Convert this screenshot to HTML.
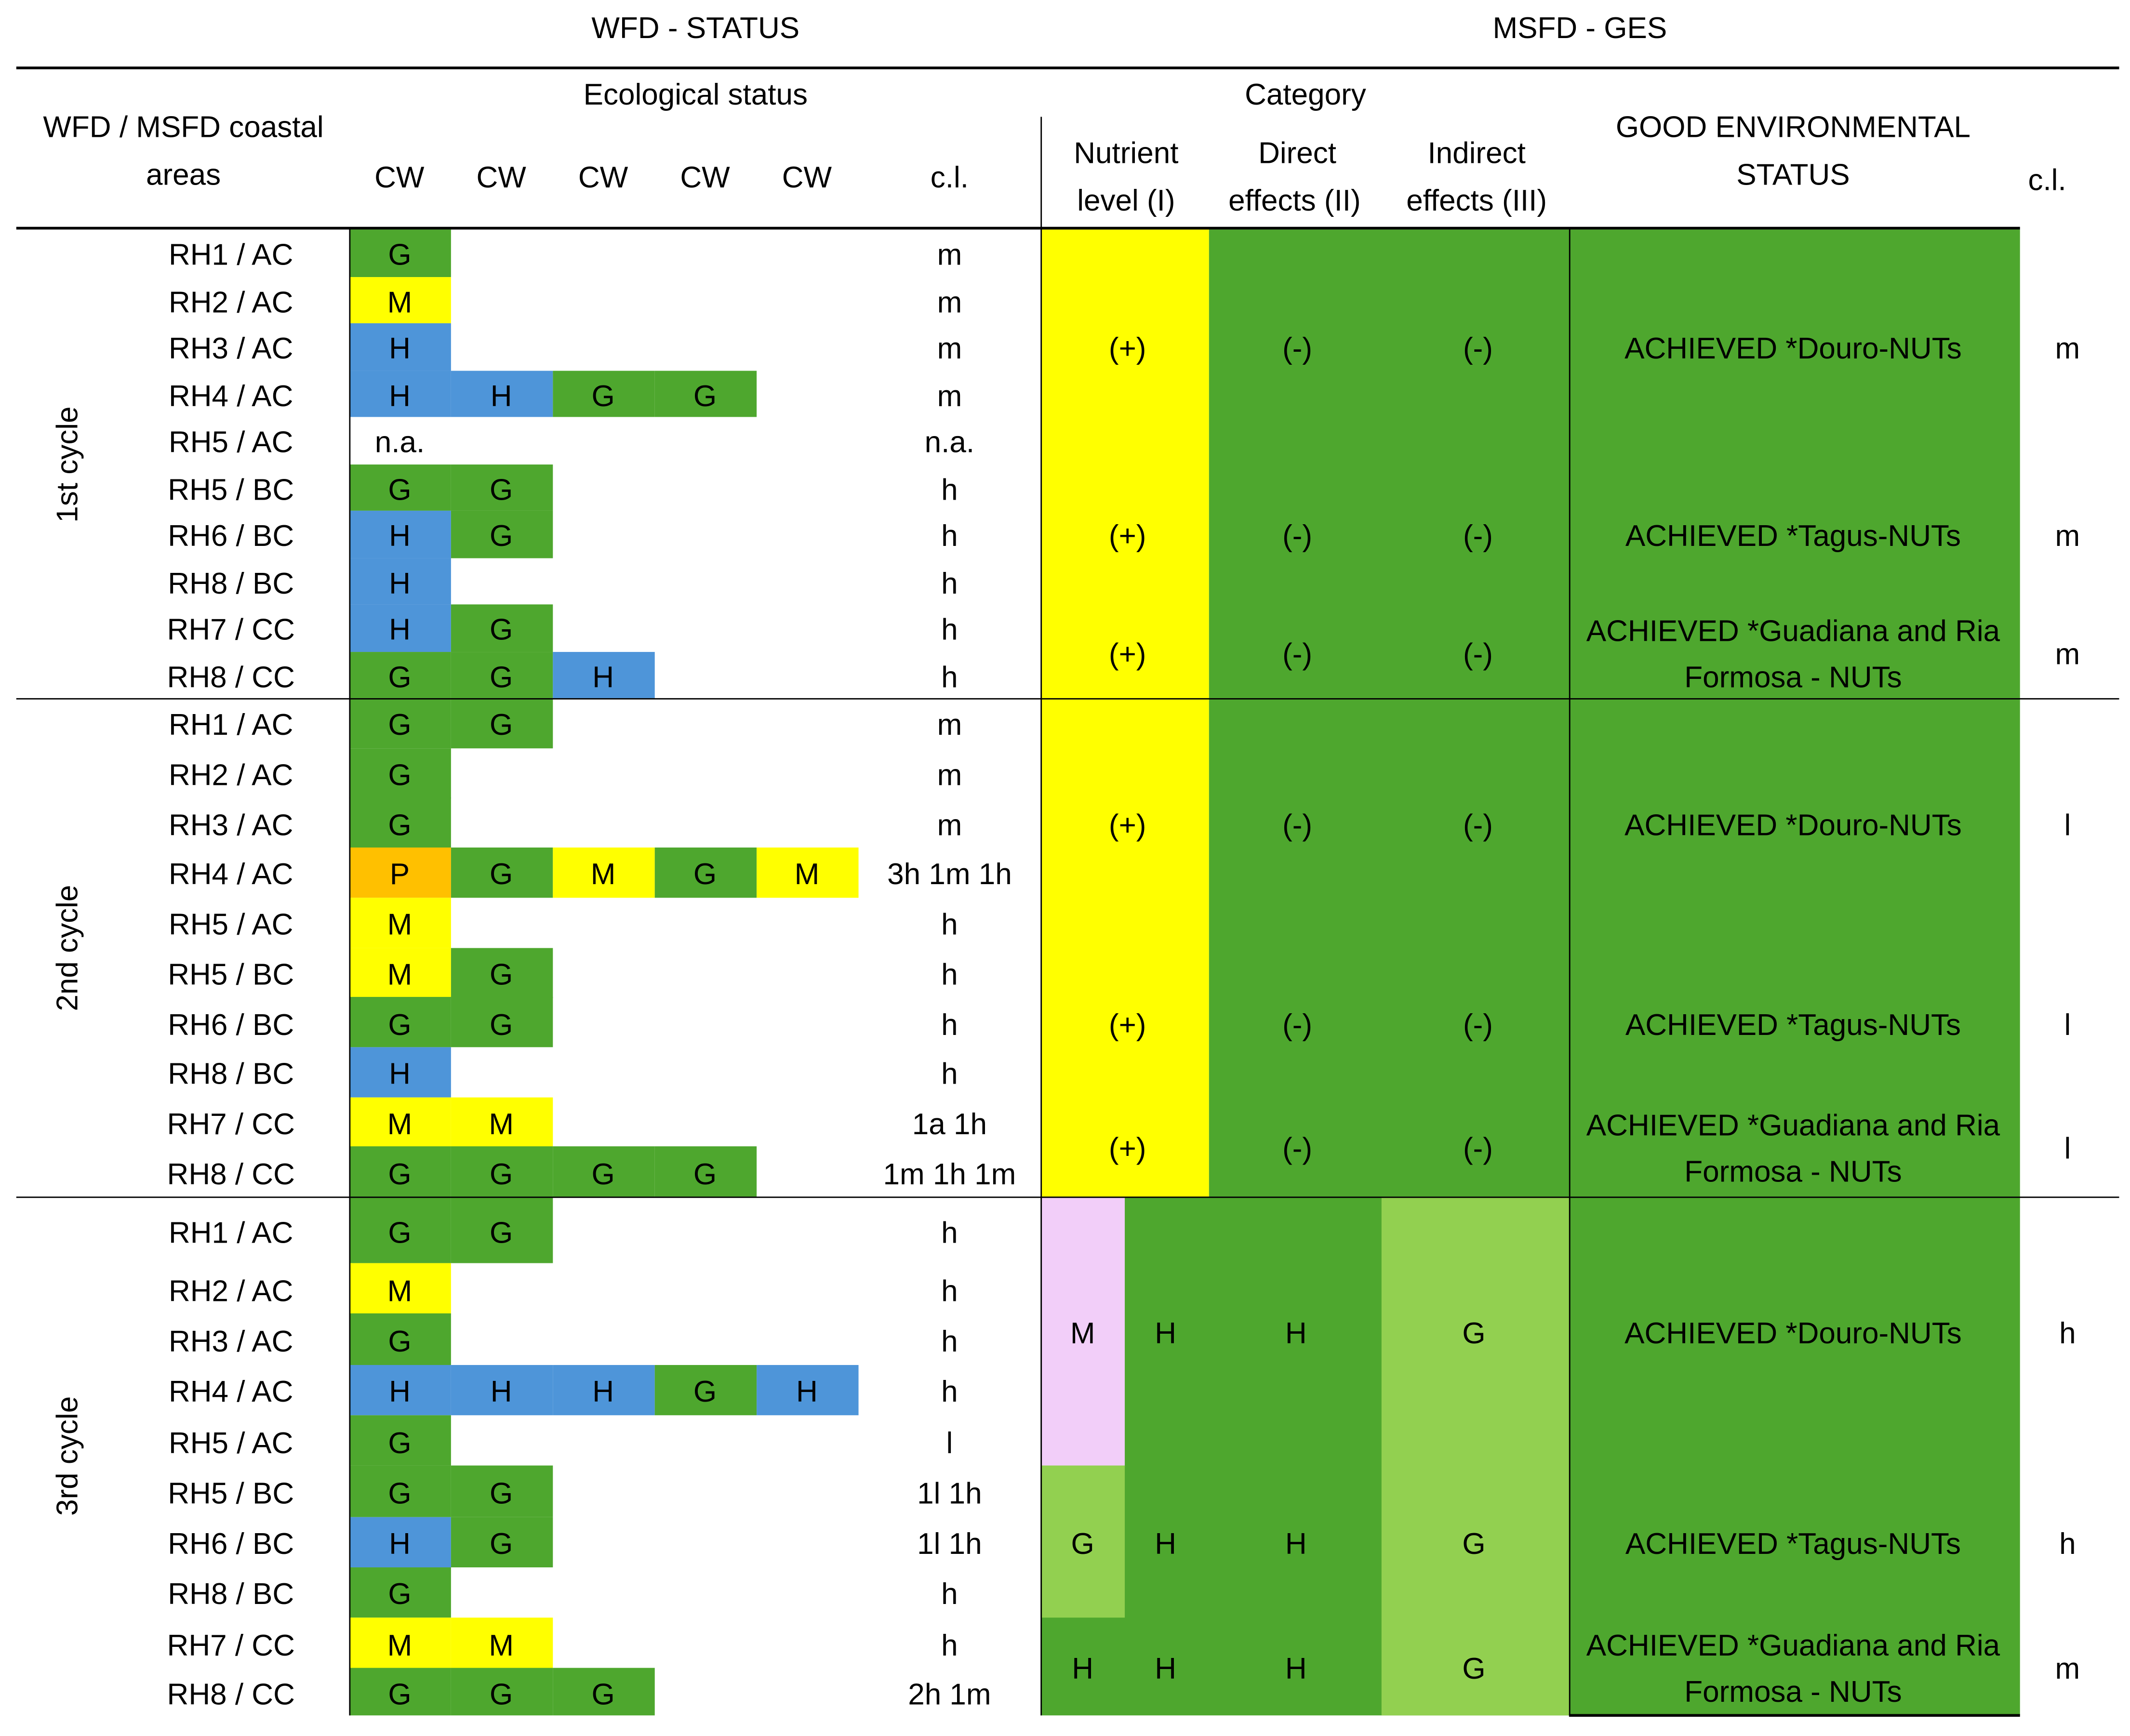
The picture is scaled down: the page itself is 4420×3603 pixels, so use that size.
<!DOCTYPE html>
<html><head><meta charset="utf-8">
<style>
html,body{margin:0;padding:0;background:#fff;}
body{width:4420px;height:3601px;overflow:hidden;position:relative;}
#wrap{position:absolute;left:0;top:0;width:1568px;height:1278px;transform:scale(2.8189);transform-origin:0 0;font-family:"Liberation Sans",sans-serif;font-size:22px;color:#000;}
.t{position:absolute;white-space:nowrap;transform:translate(-50%,-50%);line-height:1;}
.r{position:absolute;}
.ln{position:absolute;background:#000;}
</style></head>
<body>
<div id="wrap"></div>
<script>
const rowLabels=["RH1 / AC","RH2 / AC","RH3 / AC","RH4 / AC","RH5 / AC","RH5 / BC","RH6 / BC","RH8 / BC","RH7 / CC","RH8 / CC"];
const cycleNames=["1st cycle","2nd cycle","3rd cycle"];
const cwStatus=[
 [["G"],["M"],["H"],["H","H","G","G"],["n.a."],["G","G"],["H","G"],["H"],["H","G"],["G","G","H"]],
 [["G","G"],["G"],["G"],["P","G","M","G","M"],["M"],["M","G"],["G","G"],["H"],["M","M"],["G","G","G","G"]],
 [["G","G"],["M"],["G"],["H","H","H","G","H"],["G"],["G","G"],["H","G"],["G"],["M","M"],["G","G","G"]]
];
const cwCl=[
 ["m","m","m","m","n.a.","h","h","h","h","h"],
 ["m","m","m","3h 1m 1h","h","h","h","h","1a 1h","1m 1h 1m"],
 ["h","h","h","h","l","1l 1h","1l 1h","h","h","2h 1m"]
];
const gesText=["ACHIEVED *Douro-NUTs","ACHIEVED *Tagus-NUTs","ACHIEVED *Guadiana and Ria|Formosa - NUTs"];
const gesCl=[["m","m","m"],["l","l","l"],["h","h","m"]];
const colors={G:"#4EA72E",M:"#FFFF00",H:"#4E95D9",P:"#FFC000"};
const W=document.getElementById('wrap');
const DY=2;
function rect(x,y,w,h,c,name){const d=document.createElement('div');d.className='r';d.style.cssText=`left:${x}px;top:${y}px;width:${w+0.3}px;height:${h+0.3}px;background:${c}`;


W.appendChild(d);return d;}
function text(s,x,y,name,extra){const d=document.createElement('div');d.className='t';d.textContent=s;d.style.left=x+'px';d.style.top=(y+DY)+'px';if(extra)d.style.cssText+=extra;


W.appendChild(d);return d;}
function line(x,y,w,h,name){const d=document.createElement('div');d.className='ln';d.style.cssText=`left:${x}px;top:${y}px;width:${w}px;height:${h}px`;


W.appendChild(d);}
// header
text("WFD - STATUS",512,19,'wfd-status-title');
text("MSFD - GES",1163,19,'msfd-ges-title');
text("Ecological status",512,68,'ecological-status-header');
text("Category",961,68,'category-header');
text("WFD / MSFD coastal",135,92,'areas-header');
text("areas",135,127,'areas-header-2');
[294,369,444,519,594].forEach((x,i)=>text("CW",x,129,'cw-header-'+(i+1)));
text("c.l.",699,129,'cl-header');
text("Nutrient",829,111,'nutrient-header');text("level (I)",829,146,'nutrient-header-2');
text("Direct",955,111,'direct-header');text("effects (II)",953,146,'direct-header-2');
text("Indirect",1087,111,'indirect-header');text("effects (III)",1087,146,'indirect-header-2');
text("GOOD ENVIRONMENTAL",1320,92,'ges-header');text("STATUS",1320,127,'ges-header-2');
text("c.l.",1507,131,'ges-cl-header');
const cyc=[{y0:169,y1:514},{y0:514,y1:881},{y0:881,y1:1263}];
function rowBounds(c){
 if(c===2){const b=[881,930];for(let i=1;i<10;i++)b.push(930+37.3*i);b[10]=1263;return b;}
 const b=[];const h=(cyc[c].y1-cyc[c].y0)/10;for(let i=0;i<=10;i++)b.push(cyc[c].y0+h*i);return b;
}
const cwX=[257,331.5,406.5,481.5,556.5,631.5];
for(let c=0;c<3;c++){
 const b=rowBounds(c);
 const grp=[[b[0],b[5]],[b[5],b[8]],[b[8],b[10]]];
 if(c<2){
  rect(766,cyc[c].y0,124,cyc[c].y1-cyc[c].y0,"#FFFF00",'nutrient-block-c'+(c+1));
  rect(890,cyc[c].y0,597,cyc[c].y1-cyc[c].y0,"#4EA72E",'effects-block-c'+(c+1));
 } else {
  rect(766,b[0],721,b[10]-b[0],"#4EA72E",'msfd-block-c3');
  rect(766,b[0],62,b[5]-b[0],"#F2CEF9",'nutrient-m-c3');
  rect(766,b[5],62,b[8]-b[5],"#92D050",'nutrient-g-c3');
  rect(1017,b[0],138,b[10]-b[0],"#92D050",'indirect-block-c3');
 }
 grp.forEach((g,k)=>{
  const cy=(g[0]+g[1])/2;
  if(c<2){text("(+)",830,cy,'nutrient-val');text("(-)",955,cy,'direct-val');text("(-)",1088,cy,'indirect-val');}
  else{text(k===2?"H":(k===0?"M":"G"),797,cy,'nutrient-val');text("H",858,cy,'nutrient-val-2');text("H",954,cy,'direct-val');text("G",1085,cy,'indirect-val');}
  const parts=gesText[k].split('|');
  if(parts.length===1)text(parts[0],1320,cy,'ges-status');
  else{text(parts[0],1320,cy-17,'ges-status');text(parts[1],1320,cy+17,'ges-status-2');}
  text(gesCl[c][k],1522,cy,'ges-cl');
 });
 for(let r=0;r<10;r++){
  const y=b[r],h=b[r+1]-b[r],cy=y+h/2;
  text(rowLabels[r],170,cy,'row-label');
  cwStatus[c][r].forEach((s,j)=>{
   if(colors[s])rect(cwX[j],y,cwX[j+1]-cwX[j],h,colors[s],'cw-cell');
   text(s,(cwX[j]+cwX[j+1])/2,cy,'cw-value');
  });
  text(cwCl[c][r],699,cy,'cw-cl');
 }
 text(cycleNames[c],50,(cyc[c].y0+cyc[c].y1)/2-DY,'cycle-label','transform:translate(-50%,-50%) rotate(-90deg)');
}
line(12,48.5,1548,2,'top-rule');
line(12,167,1475,2.2,'header-rule');
line(12,513.5,1548,1.2,'cycle-rule-1');
line(12,880.5,1548,1.2,'cycle-rule-2');
line(256.5,168,1.2,1095,'cw-left-border');
line(766,86,1,1177,'msfd-left-border');
line(1155,168,1,1095,'ges-left-border');
line(1155,1262,332,2,'ges-bottom-rule');
</script>
</body></html>
